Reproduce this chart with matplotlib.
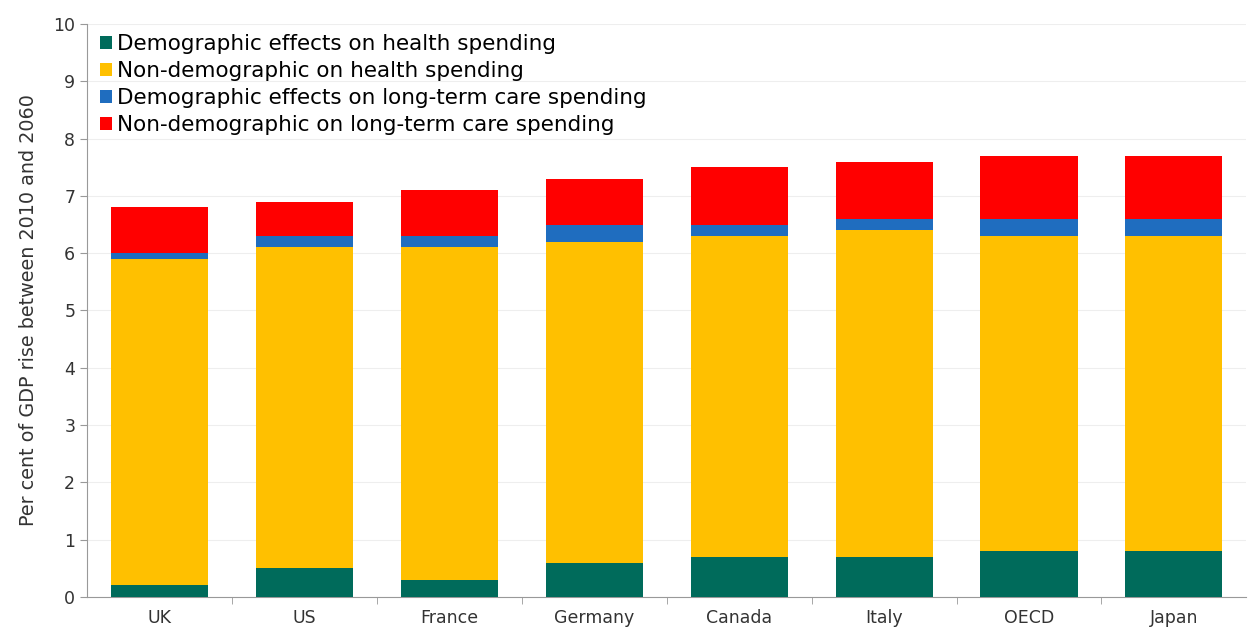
import matplotlib.pyplot as plt
import numpy as np
from matplotlib.ticker import FixedLocator

countries = ["UK", "US", "France", "Germany", "Canada", "Italy", "OECD", "Japan"]
health_demo = [0.2, 0.5, 0.3, 0.6, 0.7, 0.7, 0.8, 0.8]
health_non_demo = [5.7, 5.6, 5.8, 5.6, 5.6, 5.7, 5.5, 5.5]
ltc_demo = [0.1, 0.2, 0.2, 0.3, 0.2, 0.2, 0.3, 0.3]
ltc_non_demo = [0.8, 0.6, 0.8, 0.8, 1.0, 1.0, 1.1, 1.1]

series = [
    ("Demographic effects on health spending", health_demo, "#006B5B"),
    ("Non-demographic on health spending", health_non_demo, "#FFC000"),
    ("Demographic effects on long-term care spending", ltc_demo, "#1F6DBF"),
    ("Non-demographic on long-term care spending", ltc_non_demo, "#FF0000"),
]


def main():
    plt.rcParams["font.family"] = ["DejaVu Sans"]

    fig = plt.figure(figsize=(12.52, 6.33), dpi=100)
    ax = fig.add_axes([0.0695, 0.057, 0.926, 0.905])

    x = np.arange(len(countries))
    bottom = np.zeros(len(countries))
    for label, values, colour in series:
        values = np.array(values)
        ax.bar(x, values, width=0.67, bottom=bottom, color=colour, label=label, zorder=3)
        bottom += values

    ax.set_xlim(-0.5, len(countries) - 0.5)
    ax.set_ylim(0, 10)
    ax.set_yticks(range(0, 11))
    ax.set_xticks(x)
    ax.set_xticklabels(countries)
    ax.xaxis.set_minor_locator(FixedLocator(np.arange(0.5, len(countries) - 0.5, 1)))
    ax.tick_params(axis="x", which="major", length=0, pad=9, labelsize=12.5, colors="#333333")
    ax.tick_params(axis="x", which="minor", length=5, color="#999999")
    ax.tick_params(axis="y", length=5, color="#999999", labelsize=12.5, colors="#333333")

    ax.grid(axis="y", color="#eeeeee", linewidth=0.8, zorder=0)
    for side in ["top", "right"]:
        ax.spines[side].set_visible(False)
    ax.spines["left"].set_color("#999999")
    ax.spines["bottom"].set_color("#999999")

    ax.set_ylabel("Per cent of GDP rise between 2010 and 2060", fontsize=13.8, color="#333333", labelpad=11)

    ax.legend(
        loc="upper left",
        bbox_to_anchor=(0.0, 1.005),
        frameon=False,
        fontsize=15.5,
        handlelength=0.55,
        handleheight=0.55,
        handletextpad=0.25,
        labelspacing=0.33,
        borderaxespad=0.2,
    )

    fig.savefig("out.png", dpi=100)


if __name__ == "__main__":
    main()
